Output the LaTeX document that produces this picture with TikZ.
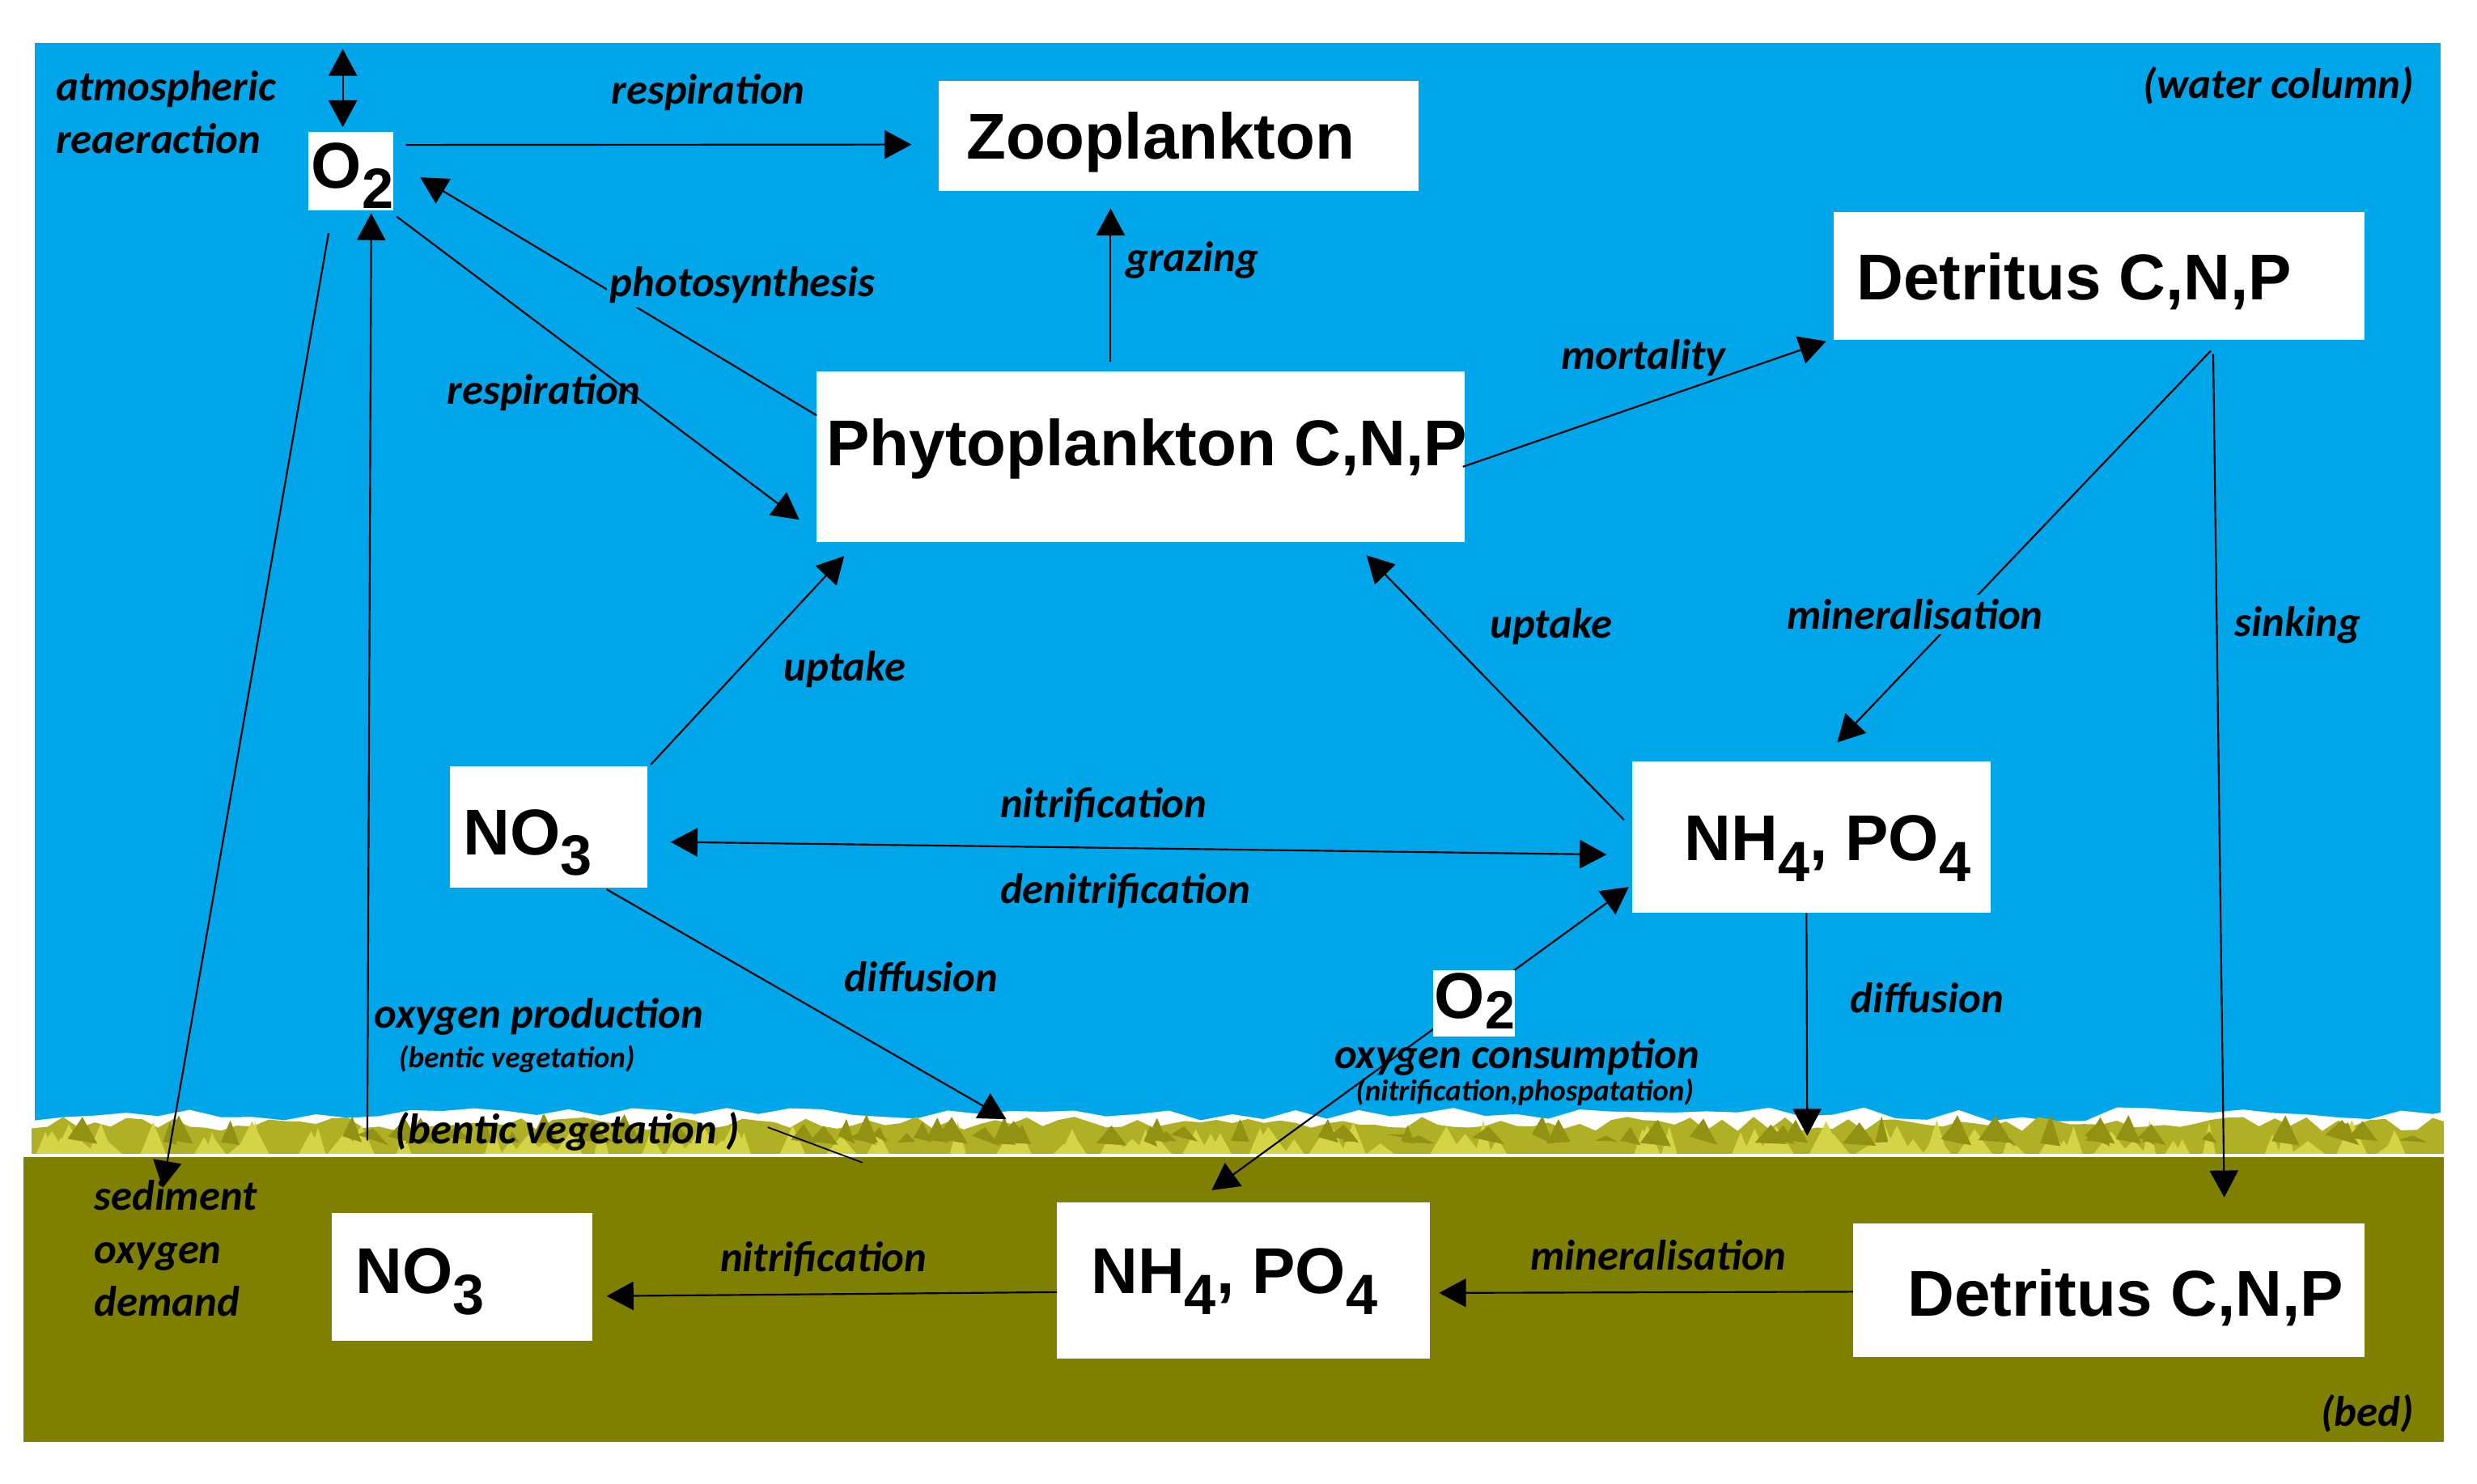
\documentclass[tikz,border=0pt]{standalone}
\usepackage{fontspec}
\setmainfont{Liberation Sans}
\newfontfamily\lblfont{Carlito}
\usetikzlibrary{arrows.meta}
\definecolor{water}{RGB}{0,166,234}
\definecolor{bedc}{RGB}{128,128,0}
\definecolor{vegA}{RGB}{176,176,38}
\definecolor{vegB}{RGB}{212,212,70}
\definecolor{vegC}{RGB}{145,145,20}
\newcommand\sbx[1]{\raisebox{-13pt}{\fontsize{36}{36}\selectfont #1}}
\newcommand\sbxb[1]{\raisebox{-7pt}{\fontsize{34}{34}\selectfont #1}}
\begin{document}
\begin{tikzpicture}[x=1pt,y=-1pt,
  box/.style={fill=white, draw=none, inner sep=0pt, outer sep=0pt},
  btext/.style={font=\fontsize{41}{41}\selectfont\bfseries, inner sep=0pt, anchor=base west},
  lbl/.style={font=\lblfont\fontsize{27}{27}\selectfont\bfseries\itshape, inner sep=0pt, anchor=base west},
  slbl/.style={font=\lblfont\fontsize{19}{19}\selectfont\bfseries\itshape, inner sep=0pt, anchor=base west},
  flow/.style={line width=1.1pt, -{Triangle[length=17pt,width=18pt]}},
  flowtwo/.style={line width=1.1pt, {Triangle[length=17pt,width=18pt]}-{Triangle[length=17pt,width=18pt]}},
  link/.style={line width=1.1pt},
  opaque/.style={fill=water, inner xsep=2pt, inner ysep=3pt}
]
\useasboundingbox (0,0) rectangle (1568,939);
\fill[white] (0,0) rectangle (1568,939);
% water
\fill[water] (22,27) rectangle (1545,712);
% vegetation strip
\pgfmathsetseed{11}
\fill[white] (20,732) \foreach \i in {0,...,76} {-- ({20+\i*20},{701+rnd*9})} -- (1547,704) -- (1547,732) -- cycle;
\fill[vegA] (20,732) \foreach \i in {0,...,152} {-- ({20+\i*10},{707+rnd*9})} -- (1547,710) -- (1547,732) -- cycle;
\foreach \i in {1,...,110} {
  \pgfmathsetmacro\xx{20+rnd*1510}
  \pgfmathsetmacro\ww{8+rnd*16}
  \pgfmathsetmacro\hh{6+rnd*16}
  \fill[vegB] (\xx,731) -- ({\xx+\ww/2},{731-\hh}) -- ({\xx+\ww},731) -- cycle;
}
\foreach \i in {1,...,80} {
  \pgfmathsetmacro\xx{20+rnd*1510}
  \pgfmathsetmacro\ww{8+rnd*14}
  \pgfmathsetmacro\hh{5+rnd*14}
  \fill[vegC] (\xx,{724-rnd*6}) -- ({\xx+\ww/2},{724-\hh}) -- ({\xx+\ww},{726-rnd*4}) -- cycle;
}
% bed
\fill[bedc] (15,732) rectangle (1547,913);
\draw[white, line width=1.6pt] (15,731.5) -- (1547,731.5);

% boxes
\node[box, minimum width=54pt, minimum height=49.5pt] (o2a) at (222,108.25) {};
\node[box, minimum width=304pt, minimum height=70pt] (zoo) at (746,86) {};
\node[box, minimum width=336pt, minimum height=81pt] (det) at (1329,174.5) {};
\node[box, minimum width=410pt, minimum height=108pt] (phyto) at (722,289) {};
\node[box, minimum width=125pt, minimum height=77pt] (no3) at (347.5,523.5) {};
\node[box, minimum width=227pt, minimum height=96pt] (nh4) at (1146.5,530) {};
\node[box, minimum width=165pt, minimum height=81pt] (no3b) at (292.5,808.5) {};
\node[box, minimum width=236pt, minimum height=99pt] (nh4b) at (787,810.5) {};
\node[box, minimum width=324pt, minimum height=84.5pt] (detb) at (1335,816.75) {};

% free ends
\coordinate (atm) at (217,31);
\coordinate (vegN) at (637,708.5);
\coordinate (vegH) at (1144,719);
\coordinate (sod) at (103,752);
\coordinate (oprod) at (232.5,722);
\coordinate (s1) at (486,713.6);
\coordinate (s2) at (546,736);

% connectors
\draw[flowtwo] (atm) -- ([xshift=-5pt,yshift=3pt]o2a.north);
\draw[flow] ([xshift=8pt,yshift=16.5pt]o2a.east) -- ([xshift=-17pt,yshift=-5.5pt]zoo.west);
\draw[flow] ([yshift=26pt]phyto.west) -- ([xshift=17pt,yshift=-4pt]o2a.east);
\draw[flow] ([xshift=2pt,yshift=-4pt]o2a.south east) -- ([xshift=-11pt,yshift=-40pt]phyto.west);
\draw[flow] ([xshift=-19pt,yshift=6pt]phyto.north) -- ([xshift=-43pt,yshift=-11pt]zoo.south);
\draw[flow] ([xshift=-1pt,yshift=-6.5pt]phyto.east) -- ([xshift=-5pt,yshift=-1pt]det.south west);
\draw[flow] ([xshift=70.5pt,yshift=-7pt]det.south) -- ([xshift=16.5pt,yshift=12pt]nh4.north);
\draw[flow] ([xshift=72pt,yshift=-9pt]det.south) -- ([xshift=73pt,yshift=16.5pt]detb.north);
\draw[flow] ([xshift=-5pt,yshift=11pt]nh4.west) -- ([xshift=143pt,yshift=-8.5pt]phyto.south);
\draw[flow] ([xshift=2pt,yshift=1pt]no3.north east) -- ([xshift=17.4pt,yshift=-9pt]phyto.south west);
\draw[flowtwo] ([xshift=14.5pt,yshift=-9.5pt]no3.east) -- ([xshift=-16pt,yshift=-11pt]nh4.west);
\draw[flow] ([xshift=36.5pt,yshift=-1pt]no3.south) -- (vegN);
\draw[flow] ([xshift=-3pt]nh4.south) -- (vegH);
\draw[flowtwo] ([xshift=-20pt,yshift=7.5pt]nh4b.north) -- ([xshift=-2pt,yshift=16.5pt]nh4.south west);
\draw[flow] ([xshift=-14pt,yshift=-14.5pt]o2a.south) -- (sod);
\draw[flow] (oprod) -- ([xshift=13pt,yshift=-2pt]o2a.south);
\draw[flow] ([yshift=-7.5pt]nh4b.west) -- ([xshift=9pt,yshift=-12pt]no3b.east);
\draw[flow] ([yshift=-1pt]detb.west) -- ([xshift=6pt,yshift=-8pt]nh4b.east);
\draw[line width=0.9pt] (s1) -- (s2);

% middle O2 box (over the line)
\node[box, minimum width=52pt, minimum height=42pt] (o2b) at (933,635) {};

% box texts
\node[btext] (to2a) at (197,119) {O\sbx{2}};
\node[btext] (tzoo) at (611.5,100.5) {Zooplankton};
\node[btext] (tdet) at (1175,190) {Detritus C,N,P};
\node[btext] (tphy) at (523,295) {Phytoplankton C,N,P};
\node[btext] (tno3) at (293,541) {NO\sbx{3}};
\node[btext] (tnh4) at (1066,545) {NH\sbx{4}, PO\sbx{4}};
\node[btext] (to2b) at (908,644.5) {O\sbxb{2}};
\node[btext] (tno3b) at (225,819) {NO\sbx{3}};
\node[btext] (tnh4b) at (690.5,819) {NH\sbx{4}, PO\sbx{4}};
\node[btext] (tdetb) at (1207.5,833) {Detritus C,N,P};

% labels
\node[lbl] (l1) at (35.3,64) {atmospheric};
\node[lbl] (l2) at (35.3,97) {reaeraction};
\node[lbl] (l3) at (387,66) {respiration};
\node[lbl] (wc) at (1356.6,62) {(water column)};
\node[lbl, opaque] (l4) at (384,187.5) {photosynthesis};
\node[lbl] (l5) at (712.6,172) {grazing};
\node[lbl] (l6) at (988,234) {mortality};
\node[lbl] (l7) at (283,256) {respiration};
\node[lbl, opaque] (l8) at (1129,398.5) {mineralisation};
\node[lbl] (l9) at (1414.6,403) {sinking};
\node[lbl] (l10) at (943,404) {uptake};
\node[lbl] (l11) at (496,431) {uptake};
\node[lbl] (l12) at (633,517.4) {nitrification};
\node[lbl] (l13) at (633,572) {denitrification};
\node[lbl] (l14) at (534.5,628) {diffusion};
\node[lbl] (l15) at (1171,641) {diffusion};
\node[lbl] (l16) at (236.6,651) {oxygen production};
\node[slbl] (l17) at (252.3,676) {(bentic vegetation)};
\node[lbl] (l18) at (844.6,676.5) {oxygen consumption};
\node[slbl] (l19) at (858,697) {(nitrification,phospatation)};
\node[lbl] (l20) at (249.8,724) {(bentic vegetation\ )};
\node[lbl] (l21) at (59.5,766) {sediment};
\node[lbl] (l22) at (59.5,800) {oxygen};
\node[lbl] (l23) at (59.5,833) {demand};
\node[lbl] (l24) at (455.8,804.8) {nitrification};
\node[lbl] (l25) at (968.6,804) {mineralisation};
\node[lbl] (l26) at (1469,903) {(bed)};
\end{tikzpicture}
\end{document}
